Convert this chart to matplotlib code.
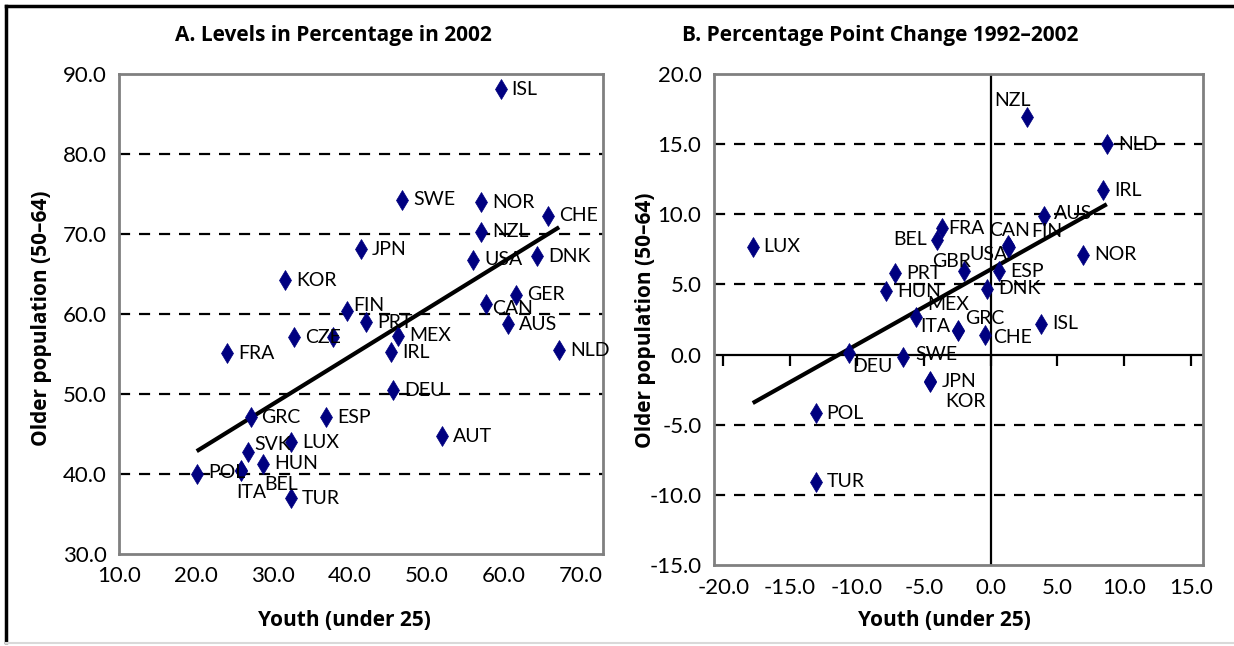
import numpy as np
import matplotlib
matplotlib.use("Agg")
import matplotlib.pyplot as plt
from matplotlib.lines import Line2D

plt.rcParams['font.family'] = ['Lato', 'DejaVu Sans']
plt.rcParams['axes.unicode_minus'] = False

# panel A: levels in 2002
names_a = ["ISL", "SWE", "NOR", "CHE", "NZL", "JPN", "USA", "DNK", "KOR", "GER",
           "CAN", "FIN", "PRT", "AUS", "CZE", "GBR", "MEX", "IRL", "NLD", "FRA",
           "DEU", "GRC", "ESP", "AUT", "SVK", "LUX", "HUN", "POL", "ITA", "BEL", "TUR"]
youth_a = [59.6, 46.8, 57.1, 65.8, 57.1, 41.4, 56.0, 64.3, 31.6, 61.6,
           57.7, 39.6, 42.1, 60.6, 32.7, 37.8, 46.3, 45.4, 67.2, 24.1,
           45.6, 27.1, 36.9, 52.0, 26.8, 32.4, 28.7, 20.1, 25.8, 25.9, 32.3]
older_a = [88.1, 74.3, 74.0, 72.3, 70.3, 68.1, 66.8, 67.2, 64.2, 62.4,
           61.2, 60.4, 59.0, 58.7, 57.1, 57.1, 57.3, 55.2, 55.5, 55.1,
           50.5, 47.1, 47.1, 44.7, 42.7, 44.0, 41.3, 40.0, 40.5, 40.4, 37.0]

# panel B: change 1992-2002
names_b = ["NZL", "NLD", "IRL", "AUS", "LUX", "FRA", "BEL", "USA", "CAN", "FIN",
           "GBR", "PRT", "ESP", "HUN", "DNK", "NOR", "MEX", "ITA", "GRC", "CHE",
           "ISL", "DEU", "SWE", "JPN", "KOR", "POL", "TUR"]
youth_b = [2.7, 8.7, 8.4, 4.0, -17.8, -3.6, -4.0, 1.3, 1.3, 1.35,
           -2.0, -7.15, 0.66, -7.8, -0.24, 6.9, -5.6, -2.4, -2.4, -0.4,
           3.8, -10.6, -6.55, -4.5, -4.5, -13.1, -13.05]
older_b = [16.9, 15.0, 11.7, 9.9, 7.7, 9.0, 8.2, 7.7, 7.8, 7.7,
           5.95, 5.8, 5.95, 4.5, 4.7, 7.1, 2.7, 1.75, 1.7, 1.4,
           2.2, 0.1, -0.2, -1.9, -1.95, -4.2, -9.05]

yt_a = [30, 40, 50, 60, 70, 80, 90]
xt_a = [10, 20, 30, 40, 50, 60, 70]
yt_b = [-15, -10, -5, 0, 5, 10, 15, 20]
xt_b = [-20, -15, -10, -5, 0, 5, 10, 15]

# label placement (pixels) where it differs from "just right of the marker"
offs_a = {"FIN": (6, 5, "left"), "CAN": (6, -4, "left"), "SVK": (6, 8, "left"),
          "ITA": (-4, -23, "left"), "BEL": (23, -14, "left"), "POL": (12, 2, "left")}
offs_b = {"NZL": (-14, 17, "center"), "BEL": (-10, 0, "right"), "USA": (-19, -8, "center"),
          "CAN": (2, 15, "center"), "FIN": (38, 15, "center"), "GBR": (-12, 10, "center"),
          "MEX": (12, 12, "left"), "ITA": (-8, 4, "right"), "GRC": (7, 12, "left"),
          "CHE": (8, -3, "left"), "DEU": (3, -13, "left"), "SWE": (12, 3, "left"),
          "KOR": (15, -20, "left"), "FRA": (6, 0, "left"), "AUS": (10, 2, "left")}
hidden = {"GBR"}

W, H = 1234, 646
fig = plt.figure(figsize=(W / 100, H / 100), dpi=100)


def box(x0, y0, x1, y1):
    return [x0 / W, 1 - y1 / H, (x1 - x0) / W, (y1 - y0) / H]


navy = "#000080"
gray = "#808080"


def panel(ax, xs, ys, names, offs, skip, xt, yt, xlim):
    ax.set_xlim(*xlim)
    ax.set_ylim(yt[0], yt[-1])
    ax.set_xticks(xt)
    ax.set_yticks(yt)
    ax.set_xticklabels([f"{v:.1f}" for v in xt])
    ax.set_yticklabels([f"{v:.1f}" for v in yt])
    ax.tick_params(length=0, labelsize=16, pad=9)
    for s in ax.spines.values():
        s.set_color(gray)
        s.set_linewidth(2)
    for v in yt[1:-1]:
        if v != 0:
            ax.axhline(v, color="black", lw=1.6, ls=(0, (5, 4)), zorder=1)
    ax.plot(xs, ys, ls="none", marker="d", ms=10.5, mew=0.5, color=navy, mec=navy, zorder=3)
    for n, x, y in zip(names, xs, ys):
        if n in skip:
            continue
        dx, dy, ha = offs.get(n, (11, 0, "left"))
        ax.annotate(n, (x, y), xytext=(dx, dy), textcoords="offset pixels",
                    ha=ha, va="center", fontsize=14, zorder=4)
    k, b = np.polyfit(xs, ys, 1)
    lx = np.array([min(xs), max(xs)])
    ax.plot(lx, k * lx + b, color="black", lw=3, zorder=2, solid_capstyle="butt")


ax1 = fig.add_axes(box(119, 74, 603, 554))
panel(ax1, youth_a, older_a, names_a, offs_a, hidden, xt_a, yt_a, (10, 72.9))

ax2 = fig.add_axes(box(714, 74, 1203, 565))
panel(ax2, youth_b, older_b, names_b, offs_b, set(), xt_b, yt_b, (-20.7, 15.9))
ax2.axhline(0, color="black", lw=1.6, zorder=1)
ax2.axvline(0, color="black", lw=1.6, zorder=1)
ax2.plot(xt_b, [0] * len(xt_b), ls="none", marker=3, ms=8, mew=1.6, color="black", zorder=1)

bold = dict(fontweight="bold", family=["Open Sans", "DejaVu Sans"])
fig.text(333 / W, 1 - 35 / H, "A. Levels in Percentage in 2002", ha="center", va="center", fontsize=15, **bold)
fig.text(880 / W, 1 - 35 / H, "B. Percentage Point Change 1992–2002", ha="center", va="center", fontsize=15, **bold)
fig.text(344 / W, 1 - 620 / H, "Youth (under 25)", ha="center", va="center", fontsize=15, **bold)
fig.text(944 / W, 1 - 620 / H, "Youth (under 25)", ha="center", va="center", fontsize=15, **bold)
fig.text(42 / W, 1 - 318 / H, "Older population (50–64)", ha="center", va="center", rotation=90, fontsize=15, **bold)
fig.text(645 / W, 1 - 320 / H, "Older population (50–64)", ha="center", va="center", rotation=90, fontsize=15, **bold)

# outer frame
fig.add_artist(Line2D([6 / W, 1], [1 - 6 / H, 1 - 6 / H], color="black", lw=2.5))
fig.add_artist(Line2D([6 / W, 6 / W], [1 - 6 / H, 1 - 642 / H], color="black", lw=2.5))
fig.add_artist(Line2D([6 / W, 1], [1 - 643 / H, 1 - 643 / H], color="#d9d9d9", lw=1.5))

fig.savefig("out.png", dpi=100)
